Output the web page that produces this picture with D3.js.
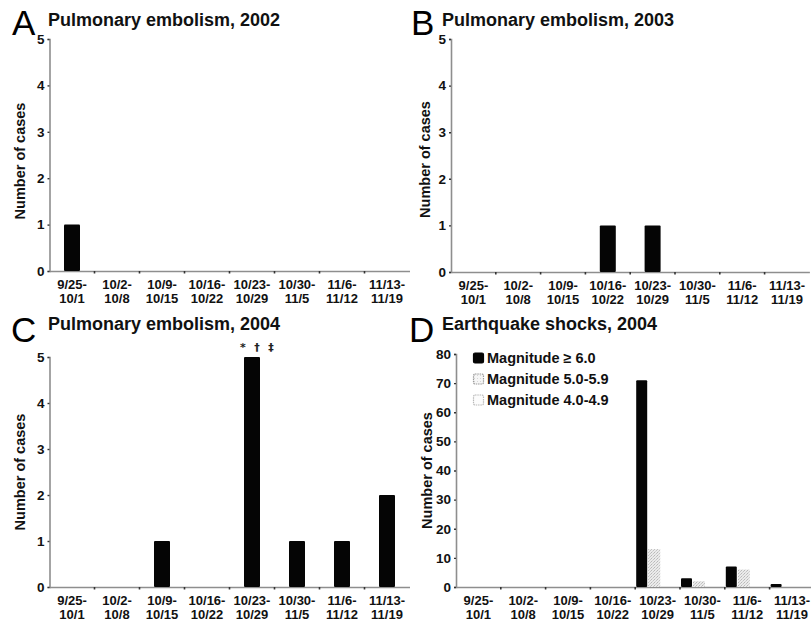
<!DOCTYPE html>
<html>
<head>
<meta charset="utf-8">
<script src="https://cdn.jsdelivr.net/npm/d3@7"></script>
<style>
  html, body { margin: 0; padding: 0; background: #fff; }
  svg { display: block; }
  text { font-family: "Liberation Sans", Arial, Helvetica, sans-serif; }
</style>
</head>
<body>
<svg id="chart" width="811" height="626"></svg>
<script>
// ---------- data ----------
const weeks = ["9/25-10/1", "10/2-10/8", "10/9-10/15", "10/16-10/22",
               "10/23-10/29", "10/30-11/5", "11/6-11/12", "11/13-11/19"];
const pe2002 = [1, 0, 0, 0, 0, 0, 0, 0];
const pe2003 = [0, 0, 0, 1, 1, 0, 0, 0];
const pe2004 = [0, 0, 1, 0, 5, 1, 1, 2];
const pe2004Notes = ["*", "\u2020", "\u2021"];   // marks over 10/23-10/29
const quakeM6 = [0, 0, 0, 0, 71, 3, 7, 1];
const quakeM5 = [0, 0, 0, 0, 13, 2, 6, 0];
const quakeM4 = [0, 0, 0, 0, 0, 0, 0, 0];
const quakeSeries = ["Magnitude \u2265 6.0", "Magnitude 5.0-5.9", "Magnitude 4.0-4.9"];
const peTicks = [0, 1, 2, 3, 4, 5];
const quakeTicks = [0, 10, 20, 30, 40, 50, 60, 70, 80];
const panelLetters = ["A", "B", "C", "D"];
const panelTitles = ["Pulmonary embolism, 2002", "Pulmonary embolism, 2003",
                     "Pulmonary embolism, 2004", "Earthquake shocks, 2004"];
const yTitle = "Number of cases";

// ---------- drawing ----------
const FONT = '"Liberation Sans", Arial, Helvetica, sans-serif';
const svg = d3.select("#chart");
const defs = svg.append("defs");

// fine stippled grey fill (scanned dotted pattern)
const pat = defs.append("pattern").attr("id", "stipple")
  .attr("patternUnits", "userSpaceOnUse").attr("width", 3).attr("height", 3);
pat.append("rect").attr("width", 3).attr("height", 3).attr("fill", "#ebebeb");
pat.append("rect").attr("x", 0).attr("y", 0).attr("width", 1).attr("height", 1).attr("fill", "#b8b8b8");
pat.append("rect").attr("x", 2).attr("y", 1).attr("width", 1).attr("height", 1).attr("fill", "#c4c4c4");
pat.append("rect").attr("x", 1).attr("y", 2).attr("width", 1).attr("height", 1).attr("fill", "#d2d2d2");

const pat2 = defs.append("pattern").attr("id", "stipple2")
  .attr("patternUnits", "userSpaceOnUse").attr("width", 3).attr("height", 3);
pat2.append("rect").attr("width", 3).attr("height", 3).attr("fill", "#f6f6f6");
pat2.append("rect").attr("x", 1).attr("y", 1).attr("width", 1).attr("height", 1).attr("fill", "#d6d6d6");

const AXIS = "#8e8e8e";

const layouts = [
  { x0: 49.5, y0: 271, yTop: 39, step: 45, letterX: 12, letterY: 35, titleX: 48, titleY: 26, yTitleX: 20, yTitleDy: 6 },
  { x0: 451, y0: 272, yTop: 39, step: 44.8, letterX: 411, letterY: 35, titleX: 442, titleY: 26, yTitleX: 425, yTitleDy: 4 },
  { x0: 49.5, y0: 587, yTop: 357, step: 45, letterX: 11, letterY: 342, titleX: 48, titleY: 330, yTitleX: 20, yTitleDy: 0 },
  { x0: 456, y0: 587, yTop: 354, step: 44.8, letterX: 409, letterY: 342, titleX: 442, titleY: 330, yTitleX: 427, yTitleDy: 0 }
];

function drawFrame(i, yMax, ticks) {
  const L = layouts[i];
  const g = svg.append("g");
  const x = d3.scaleBand().domain(weeks).range([L.x0, L.x0 + L.step * weeks.length]).padding(0);
  const y = d3.scaleLinear().domain([0, yMax]).range([L.y0, L.yTop]);

  // panel letter + title
  g.append("text").attr("x", L.letterX).attr("y", L.letterY)
    .attr("font-size", 35).attr("font-weight", "normal").attr("fill", "#000")
    .text(panelLetters[i]);
  g.append("text").attr("x", L.titleX).attr("y", L.titleY)
    .attr("font-size", 18).attr("font-weight", "bold").attr("fill", "#111")
    .text(panelTitles[i]);

  // y axis
  const yAx = g.append("g").attr("transform", `translate(${L.x0},0)`)
    .call(d3.axisLeft(y).tickValues(ticks).tickSize(2).tickPadding(3).tickFormat(d3.format("d")));
  yAx.attr("font-family", FONT).attr("font-size", 13.5).attr("font-weight", "bold");
  yAx.select(".domain").attr("stroke", AXIS).attr("stroke-width", 1.6);
  yAx.selectAll(".tick line").attr("stroke", "#333").attr("stroke-width", 1.4);
  yAx.selectAll(".tick text").attr("fill", "#111");

  // y title
  g.append("text")
    .attr("transform", `translate(${L.yTitleX},${(L.y0 + L.yTop) / 2 + L.yTitleDy}) rotate(-90)`)
    .attr("text-anchor", "middle").attr("dominant-baseline", "central")
    .attr("font-size", 14.5).attr("font-weight", "bold").attr("fill", "#111")
    .text(yTitle);

  // x axis (labels centred, tick dots at category boundaries)
  const xAx = g.append("g").attr("transform", `translate(0,${L.y0})`)
    .call(d3.axisBottom(x).tickSize(0).tickPadding(0).tickFormat(""));
  xAx.attr("font-family", FONT).attr("font-size", 13).attr("font-weight", "bold");
  xAx.select(".domain").attr("stroke", AXIS).attr("stroke-width", 1.6);
  xAx.selectAll(".tick").each(function (d) {
    const t = d3.select(this);
    const k = d.indexOf("-");
    const lines = [d.slice(0, k + 1), d.slice(k + 1)];
    const txt = t.append("text").attr("text-anchor", "middle").attr("fill", "#111");
    txt.append("tspan").attr("x", 0).attr("y", 17.5).text(lines[0]);
    txt.append("tspan").attr("x", 0).attr("y", 31.5).text(lines[1]);
  });
  g.append("g").selectAll("line").data(weeks.slice(1)).join("line")
    .attr("x1", d => x(d)).attr("x2", d => x(d))
    .attr("y1", L.y0).attr("y2", L.y0 + 2.5)
    .attr("stroke", "#333").attr("stroke-width", 1.6);
  return { g, x, y, L };
}

function drawSingle(i, values) {
  const { g, x, y } = drawFrame(i, 5, peTicks);
  const bw = 16;
  g.append("g").selectAll("rect").data(weeks.map((w, k) => ({ w, v: values[k] })).filter(d => d.v > 0))
    .join("rect")
    .attr("x", d => x(d.w) + x.bandwidth() / 2 - bw / 2)
    .attr("y", d => y(d.v))
    .attr("width", bw)
    .attr("height", d => y(0) - y(d.v))
    .attr("rx", 1)
    .attr("fill", "#050505");
  return { g, x, y };
}

drawSingle(0, pe2002);
drawSingle(1, pe2003);
const c = drawSingle(2, pe2004);
// notes over the 10/23-10/29 bar
const peakWeek = weeks[4];
c.g.append("g").selectAll("text").data(pe2004Notes).join("text")
  .attr("x", (d, k) => c.x(peakWeek) + c.x.bandwidth() / 2 - 9 + k * 14)
  .attr("y", c.y(pe2004[4]) - 6)
  .attr("text-anchor", "middle").attr("font-size", 11).attr("font-weight", "bold")
  .style("font-family", '"DejaVu Sans", "Liberation Sans", sans-serif')
  .attr("fill", "#222").text(d => d);

// Panel D: grouped bars
const d = drawFrame(3, 80, quakeTicks);
const sub = d3.scaleBand().domain(quakeSeries).range([1, 37]).padding(0);
const fills = ["#050505", "url(#stipple)", "url(#stipple2)"];
const quakeData = [quakeM6, quakeM5, quakeM4];
quakeSeries.forEach((s, si) => {
  d.g.append("g").selectAll("rect")
    .data(weeks.map((w, k) => ({ w, v: quakeData[si][k] })).filter(e => e.v > 0))
    .join("rect")
    .attr("x", e => d.x(e.w) + sub(s))
    .attr("y", e => d.y(e.v))
    .attr("width", sub.bandwidth() - (si === 0 ? 1 : 0))
    .attr("height", e => d.y(0) - d.y(e.v))
    .attr("rx", si === 0 ? 1 : 0)
    .attr("fill", fills[si]);
});

// legend
const leg = d.g.append("g").attr("transform", "translate(473,353)");
const legStroke = ["#050505", "#9a9a9a", "#b8b8b8"];
const legFill = ["#050505", "url(#stipple2)", "#fcfcfc"];
quakeSeries.forEach((s, si) => {
  const row = leg.append("g").attr("transform", `translate(0,${si * 21})`);
  row.append("rect").attr("x", 0.5).attr("y", 0).attr("width", 10).attr("height", 10).attr("rx", 1.5)
    .attr("fill", legFill[si]).attr("stroke", legStroke[si]).attr("stroke-width", 1.2)
    .attr("stroke-dasharray", si === 0 ? null : "1.5,0.8");
  row.append("text").attr("x", 14).attr("y", 5).attr("dominant-baseline", "central")
    .attr("font-size", 14.5).attr("font-weight", "bold").attr("fill", "#111").text(s);
});
</script>
</body>
</html>
